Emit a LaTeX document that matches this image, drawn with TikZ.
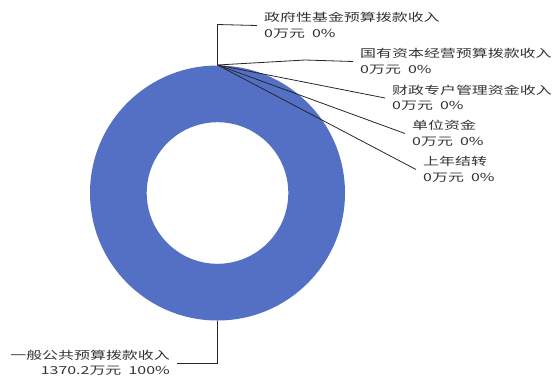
\documentclass[tikz,border=0pt]{standalone}
\usepackage{fontspec}
\newfontfamily\cjk[FakeStretch=1.45]{Noto Sans CJK SC}
\definecolor{ringblue}{RGB}{83,112,196}

\begin{document}
\begin{tikzpicture}[x=1pt,y=-1pt,
    lbl/.style={font=\cjk\fontsize{11}{15.5}\selectfont, text=black!80, inner xsep=7pt, inner ysep=0pt},
    lead/.style={draw=black!85, line width=0.8pt}]
          \useasboundingbox (0,0) rectangle (553,376);
          % ring
          \fill [ringblue, even odd rule] (217.5,193) circle [radius=127.5pt]
                (217.5,193) circle [radius=70.8pt];

          \coordinate (top) at (217.5,65);
          \coordinate (bot) at (217.5,321);

          % labels
          \node[lbl, anchor=west, align=left] (zf) at (257,25.5) {政府性基金预算拨款收入\\0万元\ \ 0\%};
          \node[lbl, anchor=west, align=left] (gy) at (353,61.5) {国有资本经营预算拨款收入\\0万元\ \ 0\%};
          \node[lbl, anchor=west, align=left] (cz) at (385,98) {财政专户管理资金收入\\0万元\ \ 0\%};
          \node[lbl, anchor=west, align=left] (dw) at (405,133.5) {单位资金\\0万元\ \ 0\%};
          \node[lbl, anchor=west, align=left] (sn) at (416,169.5) {上年结转\\0万元\ \ 0\%};
          \node[lbl, anchor=east, align=right] (yb) at (177,363) {一般公共预算拨款收入\\1370.2万元\ \ 100\%};

          % leaders
          \draw[lead] (top) -- ++(0,-40.5) -- (zf.west);
          \draw[lead] (top) -- (305,60) -- (gy.west);
          \draw[lead] (top) -- (cz.west);
          \draw[lead] (top) -- (dw.west);
          \draw[lead] (top) -- (sn.west);
          \draw[lead] (bot) |- (yb.east);
        \end{tikzpicture}
\end{document}
